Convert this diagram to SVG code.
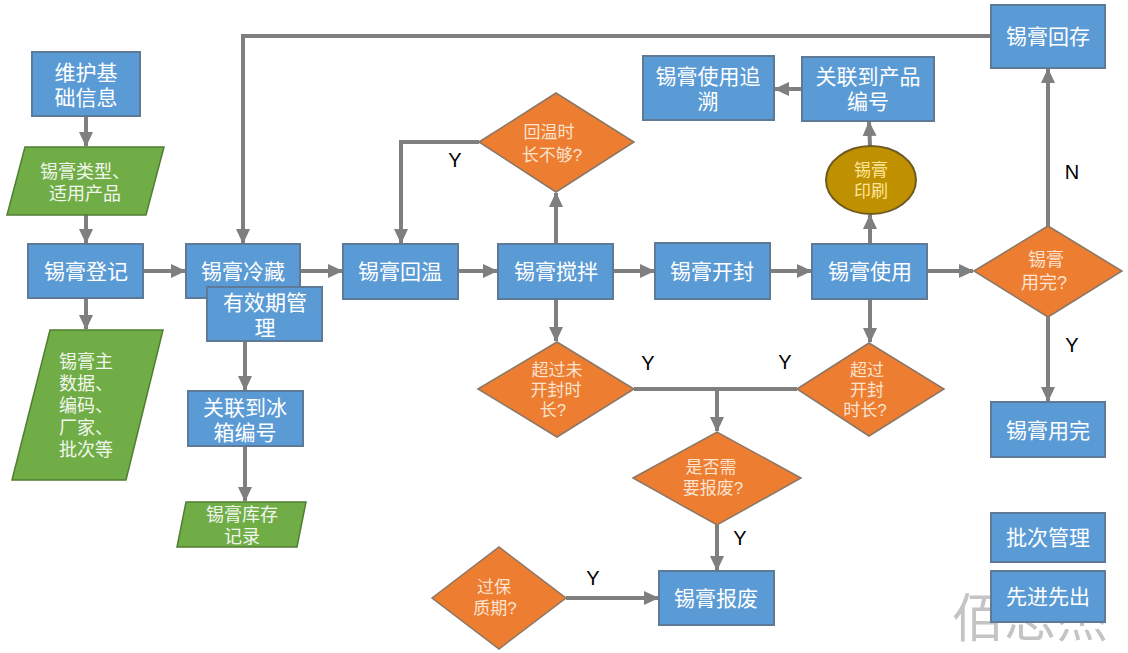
<svg xmlns="http://www.w3.org/2000/svg" width="1128" height="653" viewBox="0 0 1128 653">
<defs>
<marker id="ah" markerUnits="userSpaceOnUse" markerWidth="16" markerHeight="16" viewBox="0 0 16 16" refX="14" refY="8" orient="auto">
<path d="M0,1 L15,8 L0,15 Z" fill="#7F7F7F"/>
</marker>
<style>
.box{fill:#5B9BD5;stroke:#5E7A96;stroke-width:2}
.dia{fill:#ED7D31;stroke:#8A7766;stroke-width:1.5}
.para{fill:#70AD47;stroke:#507E32;stroke-width:1.5}
.ell{fill:#BF9000;stroke:#6F5A20;stroke-width:2}
.t{font-family:"Liberation Sans","Noto Sans CJK SC",sans-serif;font-size:21px;fill:#FFFFFF;text-anchor:middle}
.td{font-family:"Liberation Sans","Noto Sans CJK SC",sans-serif;font-size:17px;fill:#FBE3CF;text-anchor:middle}
.tg{font-family:"Liberation Sans","Noto Sans CJK SC",sans-serif;font-size:18px;fill:#F2F7EE}
.te{font-family:"Liberation Sans","Noto Sans CJK SC",sans-serif;font-size:17px;fill:#FFE699;text-anchor:middle}
.lbl{font-family:"Liberation Sans",Arial,sans-serif;font-size:20px;fill:#000000;text-anchor:middle}
.c{fill:none;stroke:#7F7F7F;stroke-width:4}
.wm{font-family:"Liberation Sans","Noto Sans CJK SC",sans-serif;font-size:52px;fill:#C4C4C4}
</style>
</defs>

<text class="wm" x="952" y="637">佰思杰</text>

<g id="connectors">
<line class="c" x1="86" y1="116" x2="86" y2="146" marker-end="url(#ah)"/>
<line class="c" x1="86" y1="215" x2="86" y2="243" marker-end="url(#ah)"/>
<line class="c" x1="86" y1="298" x2="86" y2="329" marker-end="url(#ah)"/>
<line class="c" x1="143" y1="271" x2="185" y2="271" marker-end="url(#ah)"/>
<line class="c" x1="300" y1="271" x2="342" y2="271" marker-end="url(#ah)"/>
<line class="c" x1="458" y1="271" x2="497" y2="271" marker-end="url(#ah)"/>
<line class="c" x1="613" y1="271" x2="654" y2="271" marker-end="url(#ah)"/>
<line class="c" x1="770" y1="271" x2="811" y2="271" marker-end="url(#ah)"/>
<line class="c" x1="927" y1="271" x2="973" y2="271" marker-end="url(#ah)"/>
<line class="c" x1="245" y1="341" x2="245" y2="390" marker-end="url(#ah)"/>
<line class="c" x1="245" y1="446" x2="245" y2="501" marker-end="url(#ah)"/>
<polyline class="c" points="991,36 243,36 243,243" marker-end="url(#ah)"/>
<polyline class="c" points="479,142 401,142 401,243" marker-end="url(#ah)"/>
<line class="c" x1="556" y1="244" x2="556" y2="193" marker-end="url(#ah)"/>
<line class="c" x1="556" y1="299" x2="556" y2="341" marker-end="url(#ah)"/>
<line class="c" x1="870" y1="299" x2="870" y2="342" marker-end="url(#ah)"/>
<line class="c" x1="634" y1="389" x2="797" y2="389"/>
<line class="c" x1="717" y1="389" x2="717" y2="431" marker-end="url(#ah)"/>
<line class="c" x1="717" y1="525" x2="717" y2="570" marker-end="url(#ah)"/>
<line class="c" x1="566" y1="598" x2="658" y2="598" marker-end="url(#ah)"/>
<line class="c" x1="870" y1="244" x2="870" y2="215" marker-end="url(#ah)"/>
<line class="c" x1="870" y1="146" x2="869" y2="122" marker-end="url(#ah)"/>
<line class="c" x1="802" y1="89" x2="775" y2="89" marker-end="url(#ah)"/>
<line class="c" x1="1048" y1="226" x2="1048" y2="69" marker-end="url(#ah)"/>
<line class="c" x1="1048" y1="317" x2="1048" y2="401" marker-end="url(#ah)"/>
<text class="lbl" x="455" y="167">Y</text>
<text class="lbl" x="648" y="370">Y</text>
<text class="lbl" x="785" y="369">Y</text>
<text class="lbl" x="740" y="545">Y</text>
<text class="lbl" x="593" y="585">Y</text>
<text class="lbl" x="1072" y="179">N</text>
<text class="lbl" x="1072" y="352">Y</text>
</g>

<g id="n-weihu">
<rect class="box" x="32" y="52" width="108" height="64"/>
<text class="t"><tspan x="86" y="80">维护基</tspan><tspan x="86" y="105">础信息</tspan></text>
</g>
<g id="n-leixing">
<polygon class="para" points="25,147 164,147 146,215 7,215"/>
<text class="tg"><tspan x="40" y="178">锡膏类型、</tspan><tspan x="49" y="200">适用产品</tspan></text>
</g>
<g id="n-dengji">
<rect class="box" x="28" y="244" width="115" height="54"/>
<text class="t" x="86" y="279">锡膏登记</text>
</g>
<g id="n-zhushuju">
<polygon class="para" points="50,330 163,330 126,480 12,480"/>
<text class="tg"><tspan x="59" y="368">锡膏主</tspan><tspan x="59" y="390">数据、</tspan><tspan x="59" y="412">编码、</tspan><tspan x="59" y="434">厂家、</tspan><tspan x="59" y="456">批次等</tspan></text>
</g>
<g id="n-lengcang">
<rect class="box" x="186" y="244" width="114" height="54"/>
<text class="t" x="243" y="279">锡膏冷藏</text>
</g>
<g id="n-youxiaoqi">
<rect class="box" x="207" y="287" width="115" height="54"/>
<text class="t"><tspan x="265" y="310">有效期管</tspan><tspan x="265" y="335">理</tspan></text>
</g>
<g id="n-bingxiang">
<rect class="box" x="188" y="391" width="115" height="55"/>
<text class="t"><tspan x="245" y="415">关联到冰</tspan><tspan x="245" y="440">箱编号</tspan></text>
</g>
<g id="n-kucun">
<polygon class="para" points="186,502 306,502 297,547 177,547"/>
<text class="tg" style="text-anchor:middle"><tspan x="242" y="521">锡膏库存</tspan><tspan x="242" y="543">记录</tspan></text>
</g>
<g id="n-huiwen">
<rect class="box" x="343" y="244" width="115" height="55"/>
<text class="t" x="400" y="279">锡膏回温</text>
</g>
<g id="n-huiwen-q">
<polygon class="dia" points="479,142 556,93 634,142 556,192"/>
<text class="td"><tspan x="549" y="138">回温时</tspan><tspan x="552" y="161">长不够?</tspan></text>
</g>
<g id="n-jiaoban">
<rect class="box" x="498" y="244" width="115" height="55"/>
<text class="t" x="556" y="279">锡膏搅拌</text>
</g>
<g id="n-kaifeng">
<rect class="box" x="655" y="243" width="115" height="56"/>
<text class="t" x="712" y="279">锡膏开封</text>
</g>
<g id="n-shiyong">
<rect class="box" x="812" y="244" width="115" height="55"/>
<text class="t" x="870" y="279">锡膏使用</text>
</g>
<g id="n-yongwan-q">
<polygon class="dia" points="974,271 1048,226 1122,271 1048,317"/>
<text class="td" style="font-size:18px"><tspan x="1046" y="266">锡膏</tspan><tspan x="1044" y="289">用完?</tspan></text>
</g>
<g id="n-huicun">
<rect class="box" x="991" y="5" width="114" height="63"/>
<text class="t" x="1048" y="44">锡膏回存</text>
</g>
<g id="n-zhuisu">
<rect class="box" x="643" y="56" width="131" height="64"/>
<text class="t"><tspan x="708" y="84">锡膏使用追</tspan><tspan x="708" y="109">溯</tspan></text>
</g>
<g id="n-chanpin">
<rect class="box" x="802" y="57" width="132" height="64"/>
<text class="t"><tspan x="868" y="84">关联到产品</tspan><tspan x="868" y="109">编号</tspan></text>
</g>
<g id="n-yinshua">
<ellipse class="ell" cx="871" cy="180" rx="45" ry="34"/>
<text class="te"><tspan x="871" y="176">锡膏</tspan><tspan x="871" y="197">印刷</tspan></text>
</g>
<g id="n-weikaifeng-q">
<polygon class="dia" points="478,389 557,342 634,389 557,437"/>
<text class="td"><tspan x="557" y="376">超过未</tspan><tspan x="556" y="396">开封时</tspan><tspan x="553" y="416">长?</tspan></text>
</g>
<g id="n-kaifeng-q">
<polygon class="dia" points="797,389 869,343 944,389 869,436"/>
<text class="td"><tspan x="867" y="376">超过</tspan><tspan x="867" y="396">开封</tspan><tspan x="865" y="416">时长?</tspan></text>
</g>
<g id="n-baofei-q">
<polygon class="dia" points="633,478 717,432 801,478 717,525"/>
<text class="td"><tspan x="711" y="473">是否需</tspan><tspan x="713" y="494">要报废?</tspan></text>
</g>
<g id="n-baofei">
<rect class="box" x="659" y="571" width="115" height="54"/>
<text class="t" x="716" y="606">锡膏报废</text>
</g>
<g id="n-baozhiqi-q">
<polygon class="dia" points="432,598 499,547 566,598 499,649"/>
<text class="td"><tspan x="494" y="593">过保</tspan><tspan x="495" y="614">质期?</tspan></text>
</g>
<g id="n-yongwan">
<rect class="box" x="991" y="402" width="114" height="55"/>
<text class="t" x="1048" y="438">锡膏用完</text>
</g>
<g id="n-pici">
<rect class="box" x="991" y="513" width="114" height="49"/>
<text class="t" x="1048" y="545">批次管理</text>
</g>
<g id="n-xianjin">
<rect class="box" x="991" y="571" width="114" height="51"/>
<text class="t" x="1048" y="604">先进先出</text>
</g>
</svg>
